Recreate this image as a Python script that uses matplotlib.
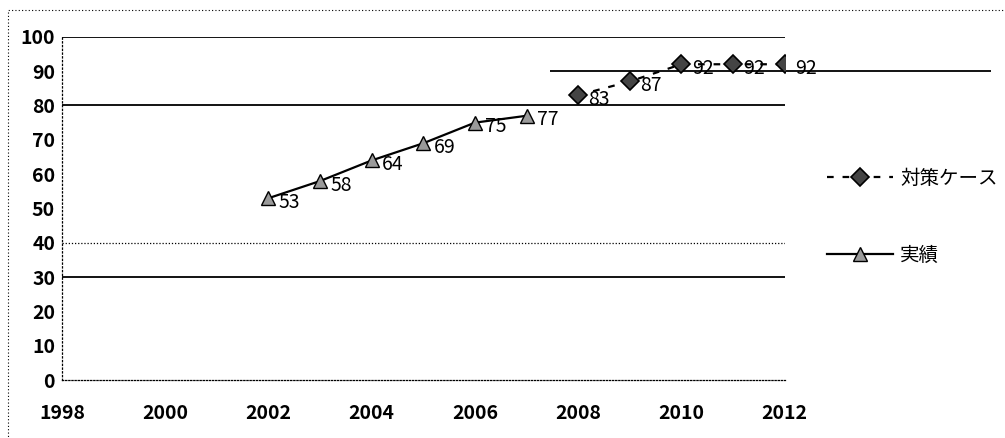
import matplotlib.pyplot as plt
from matplotlib.patches import Rectangle

# data
years_actual = [2002, 2003, 2004, 2005, 2006, 2007]
vals_actual = [53, 58, 64, 69, 75, 77]
years_plan = [2008, 2009, 2010, 2011, 2012]
vals_plan = [83, 87, 92, 92, 92]
label_actual = "実績"
label_plan = "対策ケース"
x_ticks = [1998, 2000, 2002, 2004, 2006, 2008, 2010, 2012]
y_ticks = [0, 10, 20, 30, 40, 50, 60, 70, 80, 90, 100]
solid_grid = [100, 80, 30]
dotted_grid = [40]

plt.rcParams["font.family"] = ["Noto Sans CJK JP", "DejaVu Sans"]

fig = plt.figure(figsize=(10.05, 4.38), dpi=100)
ax = fig.add_axes([0.0617, 0.132, 0.719, 0.784])

for y in solid_grid:
    ax.axhline(y, color="black", linewidth=1.3, zorder=1)
for y in dotted_grid:
    ax.axhline(y, color="black", linewidth=0.9, linestyle=(0, (1, 1.5)), zorder=1)
# odd partial line from the original
ax.hlines(90, 2007.45, 2016, color="black", linewidth=1.3, clip_on=False, zorder=1)

ax.plot(years_actual, vals_actual, color="black", linewidth=1.6, marker="^",
        markersize=10, markerfacecolor="#9a9a9a", markeredgecolor="black",
        markeredgewidth=1.0, label=label_actual, zorder=3)
ax.plot(years_plan, vals_plan, color="black", linewidth=1.6, linestyle=(0, (3, 4)),
        marker="D", markersize=9, markerfacecolor="#444444", markeredgecolor="black",
        markeredgewidth=1.2, label=label_plan, zorder=3)

for x, v in zip(years_actual + years_plan, vals_actual + vals_plan):
    ax.text(x + 0.2, v - 1.2, str(v), fontsize=14, va="center", ha="left",
            color="black", zorder=4)

ax.set_xlim(1998, 2012)
ax.set_ylim(0, 100)
ax.set_xticks(x_ticks)
ax.set_yticks(y_ticks)
ax.tick_params(length=0, labelsize=14, pad=5)
ax.tick_params(axis="x", pad=17)
for lbl in ax.get_xticklabels() + ax.get_yticklabels():
    lbl.set_fontweight("bold")

for s in ["top", "right"]:
    ax.spines[s].set_visible(False)
ax.spines["left"].set_linestyle((0, (1, 2)))
ax.spines["bottom"].set_linestyle((0, (1, 1.5)))
ax.spines["left"].set_linewidth(0.9)
ax.spines["bottom"].set_linewidth(0.9)

handles, labels = ax.get_legend_handles_labels()
fig.legend(handles[::-1], labels[::-1], loc="center left",
           bbox_to_anchor=(0.805, 0.505), frameon=False, fontsize=14,
           labelspacing=2.9, handlelength=3.4, handletextpad=0.4)

# dotted frame from the scan
fig.patches.append(Rectangle((0.008, -0.05), 1.1, 1.027, transform=fig.transFigure,
                             fill=False, linestyle=(0, (1, 2)), linewidth=0.8,
                             edgecolor="black"))

fig.savefig("out.png", dpi=100)
